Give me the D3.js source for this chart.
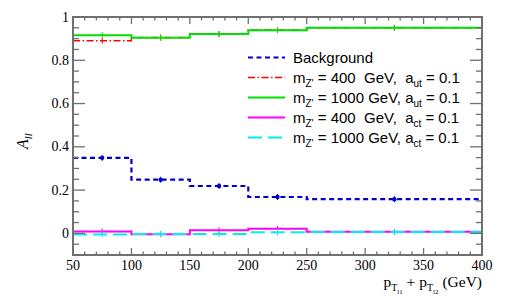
<!DOCTYPE html>
<html><head><meta charset="utf-8">
<script src="https://cdn.jsdelivr.net/npm/d3@7"></script>
<style>body{margin:0;background:#fff}svg{display:block}</style>
</head><body>
<svg id="c" width="512" height="299"></svg>
<script>
const binEdges = [50, 100, 150, 200, 250, 400];
const binCenters = [75, 125, 175, 225, 325];
const background = [0.349, 0.248, 0.219, 0.168, 0.158];
const ut400 = [0.890, 0.905, 0.921, 0.940, 0.950];
const ut1000 = [0.916, 0.904, 0.921, 0.939, 0.950];
const ct400 = [0.009, -0.004, 0.014, 0.021, 0.007];
const ct1000 = [-0.005, -0.003, -0.003, 0.005, 0.006];
const xTicks = [50, 100, 150, 200, 250, 300, 350, 400];
const yTicks = [0, 0.2, 0.4, 0.6, 0.8, 1];
const yTickLabels = ["0", "0.2", "0.4", "0.6", "0.8", "1"];

const series = [
  {name: "bg", values: background, color: "#0000cc", width: 2.2, dash: "5,3.5", marker: "dot"},
  {name: "ut400", values: ut400, color: "#ff0000", width: 1.5, dash: "7,2.5,1.5,2.5"},
  {name: "ut1000", values: ut1000, color: "#00e000", width: 2, dash: null},
  {name: "ct400", values: ct400, color: "#ff00ff", width: 2, dash: null},
  {name: "ct1000", values: ct1000, color: "#00f0f0", width: 2, dash: "14,6"}
];

const svg = d3.select("#c");
const L = 73, R = 482, T = 17, B = 255;
const x = d3.scaleLinear().domain([50, 400]).range([L, R]);
const y = d3.scaleLinear().domain([-0.1, 1]).range([B, T]);

// series
const line = d3.line().x(d => x(d[0])).y(d => y(d[1])).curve(d3.curveStepAfter);
series.forEach(s => {
  const pts = binEdges.map((e, i) => [e, s.values[Math.min(i, s.values.length - 1)]]);
  svg.append("path").attr("d", line(pts)).attr("fill", "none")
    .attr("stroke", s.color).attr("stroke-width", s.width)
    .attr("stroke-dasharray", s.dash);
  binCenters.forEach((c, i) => {
    svg.append("line").attr("x1", x(c)).attr("x2", x(c))
      .attr("y1", y(s.values[i]) - 3).attr("y2", y(s.values[i]) + 3)
      .attr("stroke", s.color).attr("stroke-width", 1);
    if (s.marker === "dot") {
      svg.append("circle").attr("cx", x(c)).attr("cy", y(s.values[i])).attr("r", 2.2).attr("fill", s.color);
    }
  });
});

// frame
const frameColor = "#707070";
svg.append("rect").attr("x", L).attr("y", T).attr("width", R - L).attr("height", B - T)
  .attr("fill", "none").attr("stroke", frameColor).attr("stroke-width", 2);

// y ticks
const yMinor = d3.range(-0.1, 1.0001, 0.05).map(v => +v.toFixed(2));
yMinor.forEach(v => {
  const major = yTicks.some(t => Math.abs(t - v) < 1e-6);
  const len = major ? 12 : 6;
  [[L, L + len], [R, R - len]].forEach(([a, b]) => {
    svg.append("line").attr("x1", a).attr("x2", b).attr("y1", y(v)).attr("y2", y(v))
      .attr("stroke", frameColor).attr("stroke-width", 1.3);
  });
});
yTicks.forEach((v, i) => {
  svg.append("text").attr("x", 69).attr("y", y(v) + 4.5).attr("text-anchor", "end")
    .attr("font-family", "Liberation Serif, serif").attr("font-size", 14).attr("fill", "#000")
    .text(yTickLabels[i]);
});
// x ticks
d3.range(50, 400.01, 10).forEach(v => {
  const major = xTicks.includes(v);
  const len = major ? 7 : 3.5;
  [[B, B - len], [T, T + len]].forEach(([a, b]) => {
    svg.append("line").attr("x1", x(v)).attr("x2", x(v)).attr("y1", a).attr("y2", b)
      .attr("stroke", frameColor).attr("stroke-width", 1.3);
  });
});
xTicks.forEach(v => {
  svg.append("text").attr("x", x(v)).attr("y", 270).attr("text-anchor", "middle")
    .attr("font-family", "Liberation Serif, serif").attr("font-size", 14).attr("fill", "#000")
    .text(v);
});

// axis titles
const xt = svg.append("text").attr("x", R).attr("y", 287).attr("text-anchor", "end")
  .attr("font-family", "Liberation Serif, serif").attr("font-size", 15.5).attr("fill", "#000");
xt.append("tspan").text("p");
xt.append("tspan").attr("dy", 4).attr("font-size", 10).text("T");
xt.append("tspan").attr("dy", 3).attr("font-size", 7).text("l1");
xt.append("tspan").attr("dy", -7).text(" + p");
xt.append("tspan").attr("dy", 4).attr("font-size", 10).text("T");
xt.append("tspan").attr("dy", 3).attr("font-size", 7).text("l2");
xt.append("tspan").attr("dy", -7).text(" (GeV)");

const yt = svg.append("text").attr("transform", "translate(28,149) rotate(-90)")
  .attr("text-anchor", "start").attr("font-family", "Liberation Serif, serif")
  .attr("font-style", "italic").attr("font-size", 16).attr("fill", "#000");
yt.append("tspan").text("A");
yt.append("tspan").attr("dy", 4).attr("font-size", 11).text("ll");

// legend
const legendRows = [
  {s: 0, parts: [["Background"]]},
  {s: 1, parts: [["m"], ["Z'", "sub"], [" = 400  GeV,  a"], ["ut", "sub"], [" = 0.1"]]},
  {s: 2, parts: [["m"], ["Z'", "sub"], [" = 1000 GeV, a"], ["ut", "sub"], [" = 0.1"]]},
  {s: 3, parts: [["m"], ["Z'", "sub"], [" = 400  GeV,  a"], ["ct", "sub"], [" = 0.1"]]},
  {s: 4, parts: [["m"], ["Z'", "sub"], [" = 1000 GeV, a"], ["ct", "sub"], [" = 0.1"]]}
];
legendRows.forEach((r, i) => {
  const s = series[r.s];
  const yy = 57.5 + i * 20;
  svg.append("line").attr("x1", 248).attr("x2", 285).attr("y1", yy).attr("y2", yy)
    .attr("stroke", s.color).attr("stroke-width", s.width).attr("stroke-dasharray", s.dash);
  const t = svg.append("text").attr("x", 293).attr("y", yy + 5)
    .attr("font-family", "Liberation Sans, Arial, sans-serif").attr("font-size", 15)
    .attr("fill", "#000").attr("xml:space", "preserve").style("white-space", "pre");
  let sub = false;
  r.parts.forEach(p => {
    const isSub = p[1] === "sub";
    const ts = t.append("tspan").text(p[0]);
    if (isSub && !sub) { ts.attr("dy", 4).attr("font-size", 10); sub = true; }
    else if (isSub) { ts.attr("font-size", 10); }
    else if (sub) { ts.attr("dy", -4); sub = false; }
  });
});
</script>
</body></html>
